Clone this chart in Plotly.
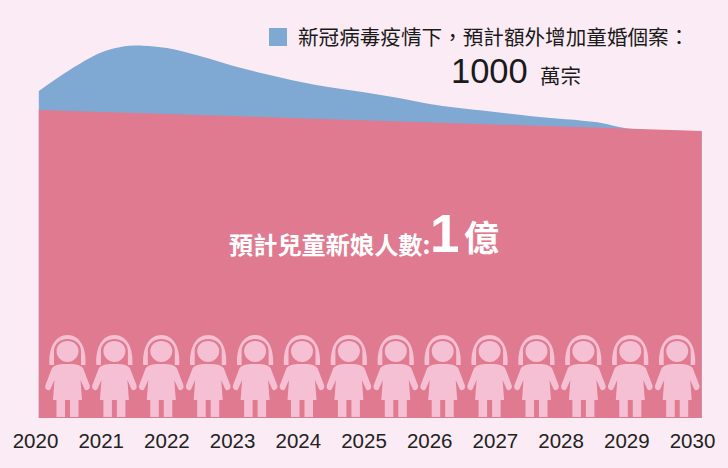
import plotly.graph_objects as go

tick_years = [2020, 2021, 2022, 2023, 2024, 2025, 2026, 2027, 2028, 2029, 2030]
total_x = [2020.05, 2020.52, 2020.98, 2021.28, 2021.63, 2022.0, 2022.5, 2023.0, 2023.5, 2024.02,
           2024.48, 2025.0, 2025.55, 2026.02, 2026.77, 2027.55, 2028.55, 2029.01, 2030.14]
total_y = [106.2, 113.0, 118.5, 120.4, 120.9, 120.1, 117.5, 114.4, 111.7, 109.2,
           107.4, 105.8, 103.8, 101.9, 99.9, 98.0, 96.0, 94.0, 93.2]
brides_x = [2020.05, 2022.5, 2025.0, 2029.01, 2030.14]
brides_y = [100.0, 98.3, 96.6, 93.8, 93.2]
icon_count = 14

BG = "#fbebf4"
BLUE = "#7fa9d3"
RED = "#e07a90"
ICON = "#f5c0d4"
CJK = "Noto Sans CJK TC"
LATIN = "Liberation Sans"

W, H = 728, 468
BOTTOM = 50
PX_PER_YEAR = 65.7
X0 = 2020 - 35.5 / PX_PER_YEAR
X1 = X0 + W / PX_PER_YEAR
PX_PER_UNIT = 3.08
Y1 = (H - BOTTOM) / PX_PER_UNIT

fig = go.Figure()
fig.add_trace(go.Scatter(x=total_x, y=total_y, mode="lines", fill="tozeroy",
                         fillcolor=BLUE, line=dict(width=0, color=BLUE, shape="spline", smoothing=1.0),
                         hoverinfo="skip", showlegend=False))
fig.add_trace(go.Scatter(x=brides_x, y=brides_y, mode="lines", fill="tozeroy",
                         fillcolor=RED, line=dict(width=0, color=RED),
                         hoverinfo="skip", showlegend=False))


def icon_paths():
    top = 83
    def p(x, y):
        return f"{x},{top - y}"
    hair = (f"M{p(-18,30)} C{p(-19,12)} {p(-12,0)} {p(0,0)} C{p(12,0)} {p(19,12)} {p(18,30)} "
            f"L{p(13.5,30)} L{p(13.5,16)} C{p(13.5,9)} {p(8,4)} {p(0,4)} C{p(-8,4)} {p(-13.5,9)} {p(-13.5,16)} L{p(-13.5,30)} Z")
    head = (f"M{p(-11,16)} C{p(-11,10)} {p(-6,6)} {p(0,6)} C{p(6,6)} {p(11,10)} {p(11,16)} "
            f"C{p(11,22)} {p(6,27)} {p(0,27)} C{p(-6,27)} {p(-11,22)} {p(-11,16)} Z")
    body = (f"M{p(0,29)} C{p(6,29)} {p(12,29)} {p(15.5,33)} L{p(22,50)} "
            f"C{p(23.5,54)} {p(19,57)} {p(17,54)} L{p(13,45)} L{p(14.5,65)} L{p(11,65)} L{p(11,82)} "
            f"L{p(2.5,82)} L{p(2.5,65)} L{p(-2.5,65)} L{p(-2.5,82)} L{p(-11,82)} L{p(-11,65)} L{p(-14.5,65)} "
            f"L{p(-13,45)} L{p(-17,54)} C{p(-19,57)} {p(-23.5,54)} {p(-22,50)} L{p(-15.5,33)} "
            f"C{p(-12,29)} {p(-6,29)} {p(0,29)} Z")
    return [hair, head, body]


shapes = []
for i in range(icon_count):
    cx = (67.5 + i * 46.9) / W
    for path in icon_paths():
        shapes.append(dict(type="path", path=path, xref="paper", yref="paper",
                           xsizemode="pixel", ysizemode="pixel", xanchor=cx, yanchor=0,
                           fillcolor=ICON, line=dict(width=0), layer="above"))
shapes.append(dict(type="rect", xref="paper", yref="paper",
                   x0=269 / W, x1=287 / W,
                   y0=(H - BOTTOM - 46) / (H - BOTTOM), y1=(H - BOTTOM - 28) / (H - BOTTOM),
                   fillcolor=BLUE, line=dict(width=0)))


def note(text, px, py, size, color="#1a1a1a", family=CJK, anchor="left", bold=False):
    if bold:
        text = f"<b>{text}</b>"
    return dict(text=text, xref="paper", yref="paper", x=px / W,
                y=(H - BOTTOM - py) / (H - BOTTOM), xanchor=anchor, yanchor="middle",
                showarrow=False, font=dict(size=size, color=color, family=family))


annotations = [
    note("新冠病毒疫情下，預計額外增加童婚個案：", 296, 36, 20.6),
    note("1000", 449, 70.5, 34.5, family=LATIN),
    note("萬宗", 538, 75, 20.5),
    note("預計兒童新娘人數:", 227, 243, 24.2, color="white", bold=True),
    note("1", 428, 233, 53, color="white", family=LATIN, bold=True),
    note("億", 462, 235, 35, color="white", bold=True),
]

fig.update_layout(
    width=W, height=H, margin=dict(l=0, r=0, t=0, b=BOTTOM),
    paper_bgcolor=BG, plot_bgcolor=BG, showlegend=False,
    xaxis=dict(range=[X0, X1], tickvals=tick_years, ticktext=[str(y) for y in tick_years],
               showgrid=False, zeroline=False, showline=False, ticks="outside", ticklen=4,
               tickcolor="rgba(0,0,0,0)", tickfont=dict(size=20.5, color="#222222", family=LATIN)),
    yaxis=dict(range=[0, Y1], visible=False),
    shapes=shapes, annotations=annotations,
)
fig.write_html("out.html", config=dict(displayModeBar=False),
               post_script="document.body.style.margin='0';document.body.style.background='%s';" % BG)
